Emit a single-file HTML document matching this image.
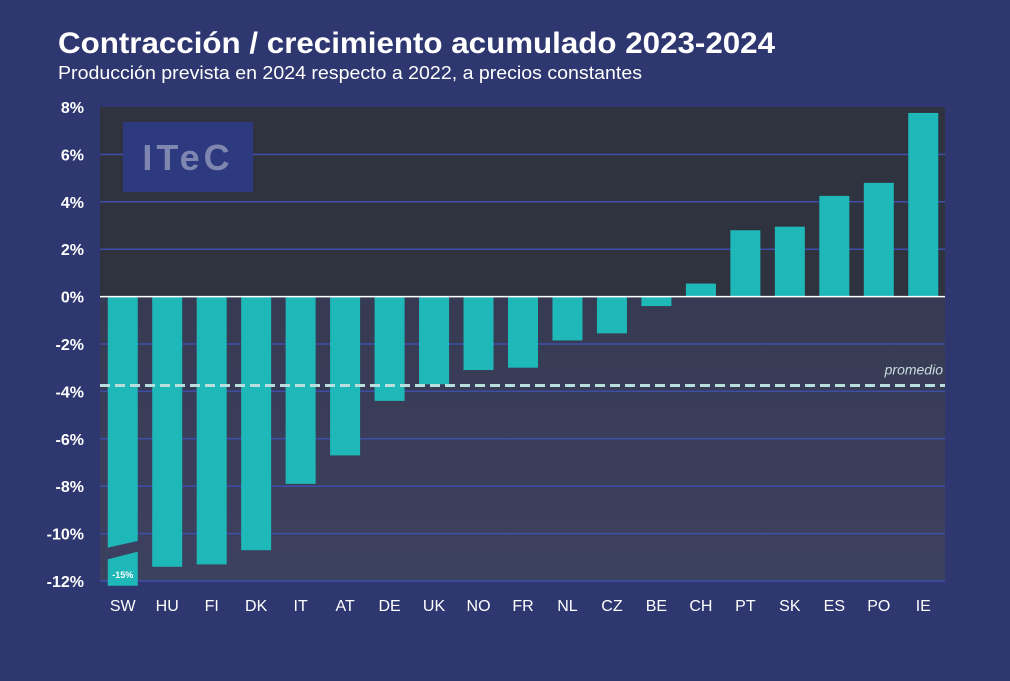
<!DOCTYPE html>
<html><head><meta charset="utf-8"><style>
body{margin:0;width:1010px;height:681px;background:#2e376f;font-family:"Liberation Sans",sans-serif;overflow:hidden}
svg{display:block}
</style></head><body>
<svg width="1010" height="681">
<defs><linearGradient id="neg" x1="0" y1="0" x2="0" y2="1"><stop offset="0" stop-color="#363a52"/><stop offset="1" stop-color="#3d4160"/></linearGradient></defs>
<text x="58" y="53" fill="#fff" font-size="30" font-weight="bold" textLength="717" lengthAdjust="spacingAndGlyphs">Contracción / crecimiento acumulado 2023-2024</text>
<text x="58" y="79" fill="#fff" font-size="18" textLength="584" lengthAdjust="spacingAndGlyphs">Producción prevista en 2024 respecto a 2022, a precios constantes</text>
<g id="plot"></g>
</svg>
<script>
const categories=["SW","HU","FI","DK","IT","AT","DE","UK","NO","FR","NL","CZ","BE","CH","PT","SK","ES","PO","IE"];
const values=[-15,-11.4,-11.3,-10.7,-7.9,-6.7,-4.4,-3.7,-3.1,-3.0,-1.85,-1.55,-0.4,0.55,2.8,2.95,4.25,4.8,7.75];
const ticks=[8,6,4,2,0,-2,-4,-6,-8,-10,-12];
const average=[-3.75];
const NS="http://www.w3.org/2000/svg";
const g=document.getElementById('plot');
const x0=100,x1=945,yMin=-12,yMax=8,yTop=107,yBot=581;
const y=v=>yTop+(yMax-v)/(yMax-yMin)*(yBot-yTop);
const step=(x1-x0)/categories.length;
const xc=i=>x0+step*(i+0.5)+0.5;
function el(t,a,txt){const e=document.createElementNS(NS,t);for(const k in a)e.setAttribute(k,a[k]);if(txt!=null)e.textContent=txt;g.appendChild(e);return e;}
let r=el('rect',{x:x0,y:yTop,width:x1-x0,height:y(0)-yTop,fill:'#2f323f'});

r=el('rect',{x:x0,y:y(0),width:x1-x0,height:yBot-y(0),fill:'url(#neg)'});

ticks.forEach(t=>{
 if(t!==0&&t!==yMax){const l=el('line',{x1:x0,x2:x1,y1:y(t),y2:y(t),stroke:'#3d4fa8','stroke-width':1.5});
 }
 const tx=el('text',{x:84,y:y(t)+6,fill:'#fff','font-size':16,'font-weight':'600','text-anchor':'end'},t+'%');
 
});
r=el('rect',{x:123,y:122,width:130,height:70,fill:'#2e3a80'});

let lt=el('text',{x:188,y:170,fill:'#7f86b0','font-size':36,'font-weight':'bold','text-anchor':'middle','letter-spacing':'4'},'ITeC');

const bw=30;
categories.forEach((c,i)=>{
 const v=values[i];const cx=xc(i);
 const vv=Math.max(v,yMin-0.2);
 const top=Math.min(y(0),y(vv)),h=Math.abs(y(vv)-y(0));
 const b=el('rect',{x:cx-bw/2,y:top,width:bw,height:h,fill:'#1fb8b8'});
 
 if(v<yMin){
  const p=el('polygon',{points:`${cx-bw/2-1},${y(-10.6)} ${cx+bw/2+1},${y(-10.3)} ${cx+bw/2+1},${y(-10.75)} ${cx-bw/2-1},${y(-11.1)}`,fill:'#3c4060'});
  
  const lb=el('text',{x:cx,y:y(yMin)-3,fill:'#fff','font-size':9,'font-weight':'bold','text-anchor':'middle'},v+'%');
  
 }
 const t=el('text',{x:cx,y:611,fill:'#fff','font-size':16,'text-anchor':'middle'},c);
 
});
const z=el('line',{x1:x0,x2:x1,y1:y(0),y2:y(0),stroke:'#fff','stroke-width':1.5});

const a=el('line',{x1:x0,x2:x1,y1:y(average[0]),y2:y(average[0]),stroke:'#b8dede','stroke-width':3,'stroke-dasharray':'10,5'});

const at=el('text',{x:943,y:y(average[0])-11,fill:'#c8dede','font-size':14,'font-style':'italic','text-anchor':'end'},'promedio');

</script>
</body></html>
